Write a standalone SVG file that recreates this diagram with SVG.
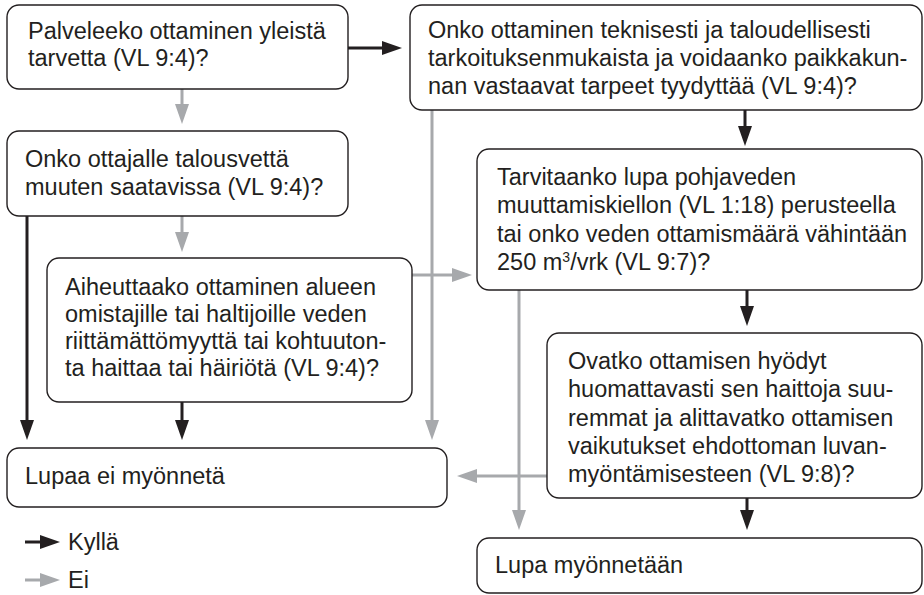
<svg xmlns="http://www.w3.org/2000/svg" width="924" height="595" viewBox="0 0 924 595">
<style>
.box{fill:#fff;stroke:#231f20;stroke-width:1.4}
.t{font-family:"Liberation Sans",Arial,sans-serif;font-size:23.5px;fill:#231f20}
.y{stroke:#231f20;stroke-width:3;fill:none}
.n{stroke:#a7a9ac;stroke-width:3;fill:none}
</style>
<defs>
<marker id="ay" markerUnits="userSpaceOnUse" markerWidth="21" markerHeight="15" refX="8" refY="7" orient="auto"><path d="M0,0 L20,7 L0,14 z" fill="#231f20"/></marker>
<marker id="an" markerUnits="userSpaceOnUse" markerWidth="21" markerHeight="15" refX="8" refY="7" orient="auto"><path d="M0,0 L20,7 L0,14 z" fill="#a7a9ac"/></marker>
</defs>
<g id="connectors">
<line class="y" x1="348" y1="48" x2="390" y2="48" marker-end="url(#ay)"/>
<line class="n" x1="182" y1="89" x2="182" y2="112" marker-end="url(#an)"/>
<line class="n" x1="182" y1="216" x2="182" y2="240" marker-end="url(#an)"/>
<line class="y" x1="27" y1="216" x2="27" y2="428" marker-end="url(#ay)"/>
<line class="y" x1="182" y1="402" x2="182" y2="428" marker-end="url(#ay)"/>
<line class="n" x1="432" y1="110" x2="432" y2="428" marker-end="url(#an)"/>
<line class="n" x1="412" y1="275" x2="460" y2="275" marker-end="url(#an)"/>
<line class="y" x1="745" y1="110" x2="745" y2="134" marker-end="url(#ay)"/>
<line class="y" x1="747" y1="290" x2="747" y2="314" marker-end="url(#ay)"/>
<line class="n" x1="519" y1="290" x2="519" y2="518" marker-end="url(#an)"/>
<line class="n" x1="547" y1="476" x2="469" y2="476" marker-end="url(#an)"/>
<line class="y" x1="747" y1="498" x2="747" y2="518" marker-end="url(#ay)"/>
</g>
<g id="n1"><rect class="box" x="7" y="5" width="341" height="84" rx="12"/>
<text class="t" x="28" y="39">Palveleeko ottaminen yleistä</text>
<text class="t" x="28" y="66">tarvetta (VL 9:4)?</text></g>
<g id="n2"><rect class="box" x="7" y="131" width="341" height="85" rx="12"/>
<text class="t" x="25" y="167">Onko ottajalle talousvettä</text>
<text class="t" x="25" y="195">muuten saatavissa (VL 9:4)?</text></g>
<g id="n3"><rect class="box" x="47" y="258" width="365" height="144" rx="12"/>
<text class="t" x="65" y="295">Aiheuttaako ottaminen alueen</text>
<text class="t" x="65" y="322">omistajille tai haltijoille veden</text>
<text class="t" x="65" y="349">riittämättömyyttä tai kohtuuton-</text>
<text class="t" x="65" y="376">ta haittaa tai häiriötä (VL 9:4)?</text></g>
<g id="n4"><rect class="box" x="410" y="5" width="512" height="105" rx="12"/>
<text class="t" x="428" y="38">Onko ottaminen teknisesti ja taloudellisesti</text>
<text class="t" x="428" y="66">tarkoituksenmukaista ja voidaanko paikkakun-</text>
<text class="t" x="428" y="94">nan vastaavat tarpeet tyydyttää (VL 9:4)?</text></g>
<g id="n5"><rect class="box" x="477" y="149" width="445" height="141" rx="12"/>
<text class="t" x="497" y="185">Tarvitaanko lupa pohjaveden</text>
<text class="t" x="497" y="213">muuttamiskiellon (VL 1:18) perusteella</text>
<text class="t" x="497" y="242">tai onko veden ottamismäärä vähintään</text>
<text class="t" x="497" y="270">250 m<tspan dy="-8" font-size="14">3</tspan><tspan dy="8">/vrk (VL 9:7)?</tspan></text></g>
<g id="n6"><rect class="box" x="547" y="333" width="375" height="165" rx="12"/>
<text class="t" x="568" y="369">Ovatko ottamisen hyödyt</text>
<text class="t" x="568" y="397">huomattavasti sen haittoja suu-</text>
<text class="t" x="568" y="426">remmat ja alittavatko ottamisen</text>
<text class="t" x="568" y="454">vaikutukset ehdottoman luvan-</text>
<text class="t" x="568" y="482">myöntämisesteen (VL 9:8)?</text></g>
<g id="n7"><rect class="box" x="7" y="448" width="440" height="59" rx="12"/>
<text class="t" x="25" y="484">Lupaa ei myönnetä</text></g>
<g id="n8"><rect class="box" x="477" y="538" width="445" height="55" rx="12"/>
<text class="t" x="495" y="573">Lupa myönnetään</text></g>
<g id="legend">
<line class="y" x1="25" y1="542" x2="48" y2="542" marker-end="url(#ay)"/>
<text class="t" x="68" y="550">Kyllä</text>
<line class="n" x1="25" y1="580" x2="48" y2="580" marker-end="url(#an)"/>
<text class="t" x="68" y="588">Ei</text>
</g>
</svg>
